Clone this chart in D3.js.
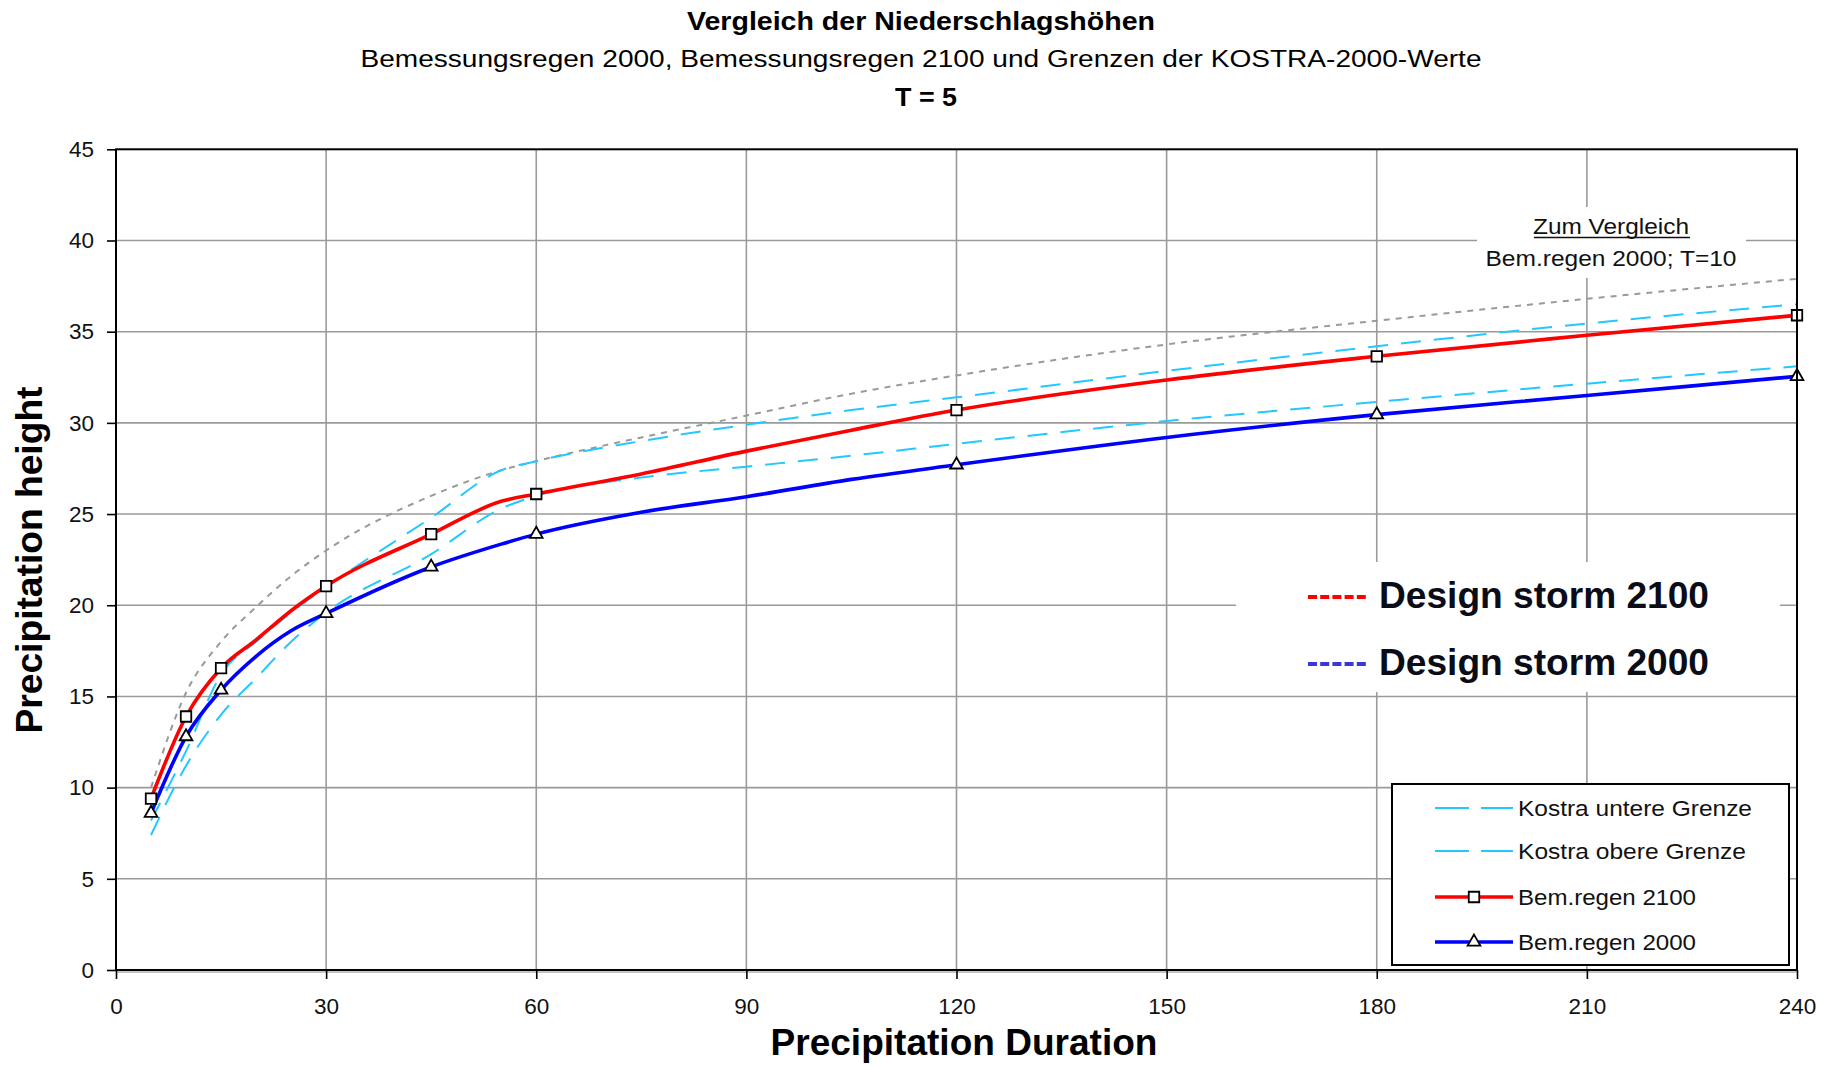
<!DOCTYPE html>
<html><head><meta charset="utf-8">
<script src="https://cdn.jsdelivr.net/npm/d3@7"></script>
<style>
body{margin:0;background:#fff;}
svg{display:block;}
text{font-family:"Liberation Sans",Arial,sans-serif;}
</style>
</head><body>
<script>
// ---------- data ----------
const durations   = [5,10,15,20,25,30,45,55,60,75,90,105,120,150,180,210,240];
const bemregen2100 = [9.4,13.9,16.55,18.1,19.7,21.05,23.9,25.7,26.1,27.2,28.45,29.6,30.7,32.35,33.65,34.8,35.9];
const bemregen2000 = [8.6,12.8,15.35,17.2,18.6,19.55,22.1,23.35,23.9,25.1,25.95,26.9,27.7,29.2,30.45,31.5,32.55];
const kostraUntere = [7.4,11.2,14.0,16.0,18.0,19.6,22.8,25.3,26.0,27.0,27.6,28.2,28.85,30.1,31.15,32.15,33.1];
const kostraObere  = [8.2,12.0,16.2,18.0,19.6,21.0,24.8,27.4,27.9,29.0,29.9,30.7,31.4,32.85,34.2,35.45,36.5];
const bem2000T10   = [10.0,15.2,18.0,19.9,21.6,23.0,26.0,27.4,27.9,29.2,30.4,31.6,32.6,34.3,35.6,36.8,37.9];
const markerDurations = [5,10,15,30,45,60,120,180,240];
const xTicks = [0,30,60,90,120,150,180,210,240];
const yTicks = [0,5,10,15,20,25,30,35,40,45];
const legendLabels = ["Kostra untere Grenze","Kostra obere Grenze","Bem.regen 2100","Bem.regen 2000"];
const designLabels = ["Design storm 2100","Design storm 2000"];

// ---------- layout ----------
const W = 1833, H = 1066;
const L = 116, R = 1797, T = 149.3, B = 970;
const svg = d3.select("body").append("svg").attr("width", W).attr("height", H);
const x = d3.scaleLinear().domain([0,240]).range([L,R]);
const y = d3.scaleLinear().domain([0,45]).range([B,T]);

function txt(s, x0, y0, size, weight, anchor, len, fill) {
  const t = svg.append("text").attr("x", x0).attr("y", y0)
    .attr("font-size", size).attr("font-weight", weight || "normal")
    .attr("text-anchor", anchor || "start").attr("fill", fill || "#000").text(s);
  if (len) t.attr("textLength", len).attr("lengthAdjust", "spacingAndGlyphs");
  return t;
}

// titles
txt("Vergleich der Niederschlagshöhen", 921, 30, 26, "bold", "middle", 468);
txt("Bemessungsregen 2000, Bemessungsregen 2100 und Grenzen der KOSTRA-2000-Werte", 921, 67, 23, "normal", "middle", 1121);
txt("T = 5", 926, 106, 25, "bold", "middle", 62);

// gridlines
const grid = svg.append("g").attr("stroke", "#9a9a9a").attr("stroke-width", 1.6);
grid.selectAll("line.v").data(xTicks.slice(1, -1)).join("line")
  .attr("x1", d => x(d)).attr("x2", d => x(d)).attr("y1", T).attr("y2", B);
grid.selectAll("line.h").data(yTicks.slice(1, -1)).join("line")
  .attr("y1", d => y(d)).attr("y2", d => y(d)).attr("x1", L).attr("x2", R);

// white label boxes that hide gridlines
svg.append("rect").attr("x", 1477).attr("y", 207).attr("width", 269).attr("height", 71).attr("fill", "#fff");
svg.append("rect").attr("x", 1236).attr("y", 562).attr("width", 544).attr("height", 130).attr("fill", "#fff");

// series
const line = d3.line().x(d => x(d[0])).y(d => y(d[1])).curve(d3.curveMonotoneX);
const pairs = vals => durations.map((d, i) => [d, vals[i]]);

svg.append("path").attr("d", line(pairs(bem2000T10))).attr("fill", "none")
  .attr("stroke", "#9a9a9a").attr("stroke-width", 2).attr("stroke-dasharray", "6,6");
svg.append("path").attr("d", line(pairs(kostraUntere))).attr("fill", "none")
  .attr("stroke", "#22c8ff").attr("stroke-width", 2).attr("stroke-dasharray", "20,13");
svg.append("path").attr("d", line(pairs(kostraObere))).attr("fill", "none")
  .attr("stroke", "#22c8ff").attr("stroke-width", 2).attr("stroke-dasharray", "20,13");
svg.append("path").attr("d", line(pairs(bemregen2000))).attr("fill", "none")
  .attr("stroke", "#0000ff").attr("stroke-width", 3.6);
svg.append("path").attr("d", line(pairs(bemregen2100))).attr("fill", "none")
  .attr("stroke", "#ff0000").attr("stroke-width", 3.6);

const sq = d3.symbol().type(d3.symbolSquare).size(110);
const tri = d3.symbol().type(d3.symbolTriangle).size(70);
const valAt = (arr, d) => arr[durations.indexOf(d)];
svg.selectAll("path.m2100").data(markerDurations).join("path")
  .attr("d", sq).attr("transform", d => `translate(${x(d)},${y(valAt(bemregen2100, d))})`)
  .attr("fill", "#fff").attr("stroke", "#000").attr("stroke-width", 1.8);
svg.selectAll("path.m2000").data(markerDurations).join("path")
  .attr("d", tri).attr("transform", d => `translate(${x(d)},${y(valAt(bemregen2000, d))})`)
  .attr("fill", "#fff").attr("stroke", "#000").attr("stroke-width", 1.8);

// plot border
svg.append("rect").attr("x", L).attr("y", T).attr("width", R - L).attr("height", B - T)
  .attr("fill", "none").attr("stroke", "#000").attr("stroke-width", 2);
svg.append("line").attr("x1", L).attr("x2", R).attr("y1", B + 2).attr("y2", B + 2)
  .attr("stroke", "#8a8a8a").attr("stroke-width", 1.2);

// axes
const yAxis = svg.append("g").attr("transform", `translate(${L},0)`)
  .call(d3.axisLeft(y).tickValues(yTicks).tickSize(9).tickPadding(13));
const xAxis = svg.append("g").attr("transform", `translate(0,${B})`)
  .call(d3.axisBottom(x).tickValues(xTicks).tickSize(9).tickPadding(19));
[yAxis, xAxis].forEach(g => {
  g.select(".domain").remove();
  g.selectAll(".tick line").attr("stroke", "#000").attr("stroke-width", 1.6);
  g.selectAll(".tick text").attr("font-size", 22.5).attr("fill", "#111")
    .attr("font-family", '"Liberation Sans",Arial,sans-serif');
});

// axis titles
txt("Precipitation height", 0, 0, 37, "bold", "middle", 347, "#000")
  .attr("transform", "translate(42,560) rotate(-90)");
txt("Precipitation Duration", 964, 1055, 37, "bold", "middle", 387, "#000");

// annotation
txt("Zum Vergleich", 1611, 234, 22, "normal", "middle", 156, "#111");
svg.append("line").attr("x1", 1534).attr("x2", 1690).attr("y1", 237.5).attr("y2", 237.5)
  .attr("stroke", "#111").attr("stroke-width", 1.5);
txt("Bem.regen 2000; T=10", 1611, 266, 22, "normal", "middle", 251, "#111");

// design storm legend
const dsColors = ["#ff0000", "#3838d8"];
const dsY = [597, 664];
designLabels.forEach((lab, i) => {
  svg.append("line").attr("x1", 1308).attr("x2", 1368).attr("y1", dsY[i]).attr("y2", dsY[i])
    .attr("stroke", dsColors[i]).attr("stroke-width", 4).attr("stroke-dasharray", "9,3.2");
  txt(lab, 1379, dsY[i] + 11, 36, "bold", "start", 330, "#0a0d17");
});

// legend box
svg.append("rect").attr("x", 1392).attr("y", 784).attr("width", 397).attr("height", 181)
  .attr("fill", "#fff").attr("stroke", "#000").attr("stroke-width", 2);
const legY = [808, 851, 897, 942];
const legLens = [234, 228, 178, 178];
legendLabels.forEach((lab, i) => {
  const ly = legY[i];
  if (i < 2) {
    svg.append("line").attr("x1", 1435).attr("x2", 1513).attr("y1", ly).attr("y2", ly)
      .attr("stroke", "#22c8ff").attr("stroke-width", 2).attr("stroke-dasharray", "34,12");
  } else {
    svg.append("line").attr("x1", 1435).attr("x2", 1513).attr("y1", ly).attr("y2", ly)
      .attr("stroke", i === 2 ? "#ff0000" : "#0000ff").attr("stroke-width", 3.6);
    svg.append("path").attr("d", i === 2 ? sq : tri)
      .attr("transform", `translate(1474,${ly})`)
      .attr("fill", "#fff").attr("stroke", "#000").attr("stroke-width", 1.8);
  }
  txt(lab, 1518, ly + 8, 22.5, "normal", "start", legLens[i], "#111");
});
</script>
</body></html>
